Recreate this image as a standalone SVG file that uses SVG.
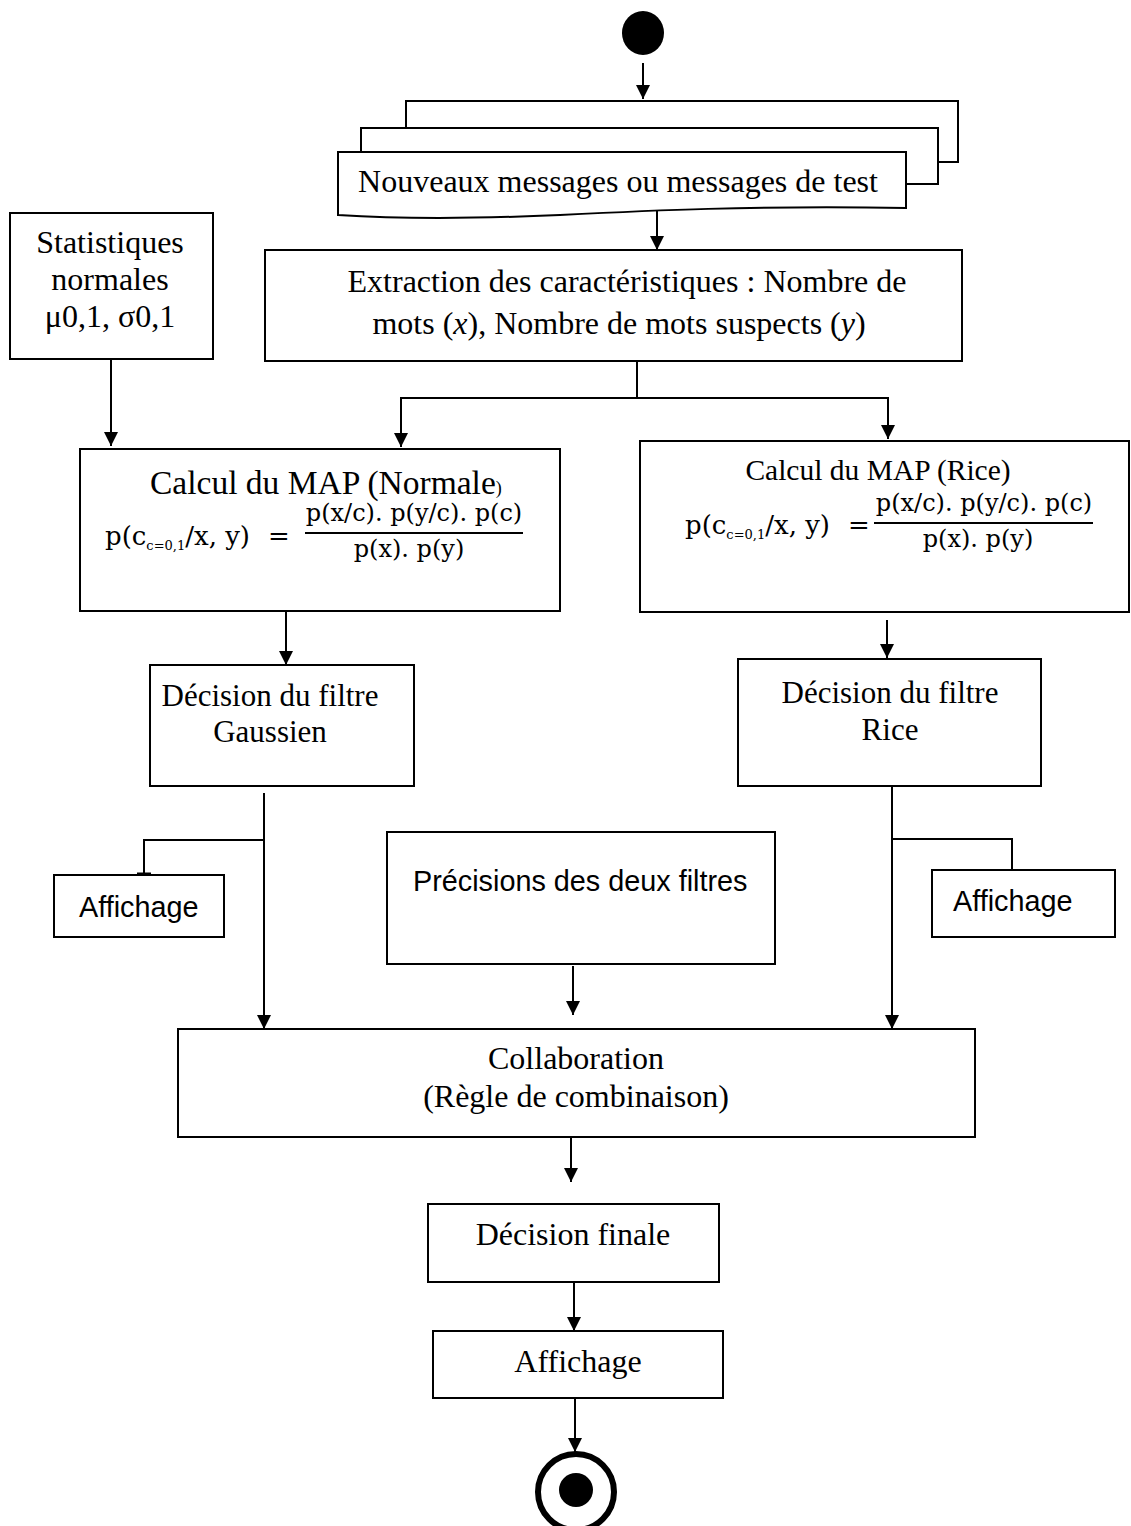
<svg xmlns="http://www.w3.org/2000/svg" width="1131" height="1526" viewBox="0 0 1131 1526">
  <style>
    .box { fill: #ffffff; stroke: #000000; stroke-width: 2; }
    .line { fill: none; stroke: #000000; stroke-width: 2; }
    .arrow { fill: none; stroke: #000000; stroke-width: 2; marker-end: url(#head); }
    .serif { font-family: "Liberation Serif", "Times New Roman", serif; font-size: 32px; fill: #000000; }
    .sans { font-family: "Liberation Sans", Arial, sans-serif; font-size: 28.8px; fill: #000000; }
    .math { font-family: "DejaVu Serif", "Liberation Serif", serif; font-size: 24px; fill: #000000; }
    .lhs { font-size: 26px; }
    .sub { font-size: 13px; }
    .dec { font-size: 31px; }
    .mid { text-anchor: middle; }
  </style>
  <defs>
    <marker id="head" viewBox="0 0 14 14" refX="14" refY="7" markerWidth="14" markerHeight="14" markerUnits="userSpaceOnUse" orient="auto">
      <path d="M0,0 L14,7 L0,14 Z" fill="#000000"/>
    </marker>
  </defs>

  <!-- connectors -->
  <g id="connectors">
    <line class="arrow" x1="643" y1="63" x2="643" y2="99"/>
    <line class="arrow" x1="657" y1="211" x2="657" y2="250"/>
    <line class="arrow" x1="111" y1="360" x2="111" y2="446"/>
    <polyline class="line" points="637,362 637,398"/>
    <polyline class="arrow" points="637,398 401,398 401,447"/>
    <polyline class="arrow" points="637,398 888,398 888,439"/>
    <line class="arrow" x1="286" y1="612" x2="286" y2="665"/>
    <line class="arrow" x1="887" y1="620" x2="887" y2="658"/>
    <line class="arrow" x1="264" y1="793" x2="264" y2="1029"/>
    <polyline class="line" points="264,840 144,840 144,874"/>
    <line x1="137" y1="874" x2="151" y2="874" stroke="#000000" stroke-width="3"/>
    <line class="arrow" x1="892" y1="787" x2="892" y2="1029"/>
    <polyline class="line" points="892,839 1012,839 1012,870"/>
    <line class="arrow" x1="573" y1="966" x2="573" y2="1015"/>
    <line class="arrow" x1="571" y1="1138" x2="571" y2="1182"/>
    <line class="arrow" x1="574" y1="1283" x2="574" y2="1331"/>
    <line class="arrow" x1="575" y1="1399" x2="575" y2="1452"/>
  </g>

  <!-- start node -->
  <g id="start">
    <ellipse cx="643" cy="33" rx="21" ry="22" fill="#000000"/>
  </g>

  <!-- stacked message documents -->
  <g id="messages">
    <rect class="box" x="406" y="101" width="552" height="61"/>
    <rect class="box" x="361" y="128" width="577" height="56"/>
    <path class="box" d="M338,152 H906 V208 C760,205 640,211 560,215 C470,219 400,219 338,215 Z"/>
    <text class="serif mid" x="618" y="192">Nouveaux messages ou messages de test</text>
  </g>

  <g id="extraction">
    <rect class="box" x="265" y="250" width="697" height="111"/>
    <text class="serif mid" x="627" y="292">Extraction des caractéristiques : Nombre de</text>
    <text class="serif mid" x="619" y="334">mots (<tspan font-style="italic">x</tspan>), Nombre de mots suspects (<tspan font-style="italic">y</tspan>)</text>
  </g>

  <g id="statistiques">
    <rect class="box" x="10" y="213" width="203" height="146"/>
    <text class="serif mid" x="110" y="253">Statistiques</text>
    <text class="serif mid" x="110" y="290">normales</text>
    <text class="serif mid" x="110" y="327">μ0,1, σ0,1</text>
  </g>

  <g id="map-normale">
    <rect class="box" x="80" y="449" width="480" height="162"/>
    <text class="serif" x="150" y="494" style="font-size:33.5px">Calcul du MAP (Normale<tspan style="font-size:18px">)</tspan></text>
    <text class="math lhs" x="105" y="545">p(c<tspan class="sub" dy="5">c=0,1</tspan><tspan dy="-5">/x, y)</tspan></text>
    <text class="math lhs" x="268" y="545">=</text>
    <text class="math mid" x="414" y="521">p(x/c). p(y/c). p(c)</text>
    <line class="line" x1="305" y1="533" x2="523" y2="533"/>
    <text class="math mid" x="409" y="557">p(x). p(y)</text>
  </g>

  <g id="map-rice">
    <rect class="box" x="640" y="441" width="489" height="171"/>
    <text class="serif mid" x="878" y="480" style="font-size:29.5px">Calcul du MAP (Rice)</text>
    <text class="math lhs" x="685" y="534">p(c<tspan class="sub" dy="5">c=0,1</tspan><tspan dy="-5">/x, y)</tspan></text>
    <text class="math lhs" x="848" y="534">=</text>
    <text class="math mid" x="984" y="511">p(x/c). p(y/c). p(c)</text>
    <line class="line" x1="874" y1="523" x2="1093" y2="523"/>
    <text class="math mid" x="978" y="547">p(x). p(y)</text>
  </g>

  <g id="decision-gaussien">
    <rect class="box" x="150" y="665" width="264" height="121"/>
    <text class="serif dec mid" x="270" y="706">Décision du filtre</text>
    <text class="serif dec mid" x="270" y="742">Gaussien</text>
  </g>

  <g id="decision-rice">
    <rect class="box" x="738" y="659" width="303" height="127"/>
    <text class="serif dec mid" x="890" y="703">Décision du filtre</text>
    <text class="serif dec mid" x="890" y="740">Rice</text>
  </g>

  <g id="affichage-gaussien">
    <rect class="box" x="54" y="875" width="170" height="62"/>
    <text class="sans" x="79" y="917">Affichage</text>
  </g>

  <g id="affichage-rice">
    <rect class="box" x="932" y="870" width="183" height="67"/>
    <text class="sans" x="953" y="911">Affichage</text>
  </g>

  <g id="precisions">
    <rect class="box" x="387" y="832" width="388" height="132"/>
    <text class="sans" x="413" y="891">Précisions des deux filtres</text>
  </g>

  <g id="collaboration">
    <rect class="box" x="178" y="1029" width="797" height="108"/>
    <text class="serif mid" x="576" y="1069">Collaboration</text>
    <text class="serif mid" x="576" y="1107">(Règle de combinaison)</text>
  </g>

  <g id="decision-finale">
    <rect class="box" x="428" y="1204" width="291" height="78"/>
    <text class="serif mid" x="573" y="1245">Décision finale</text>
  </g>

  <g id="affichage-final">
    <rect class="box" x="433" y="1331" width="290" height="67"/>
    <text class="serif mid" x="578" y="1372">Affichage</text>
  </g>

  <!-- final node -->
  <g id="end">
    <circle cx="576" cy="1492" r="38" fill="#ffffff" stroke="#000000" stroke-width="6"/>
    <circle cx="576" cy="1490" r="17" fill="#000000"/>
  </g>
</svg>
